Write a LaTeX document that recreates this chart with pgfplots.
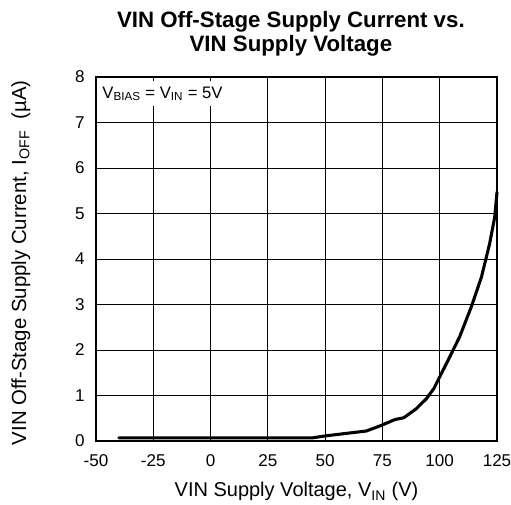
\documentclass[border=0pt]{standalone}
\usepackage{fontspec}
\setmainfont{Liberation Sans}
\usepackage{pgfplots}
\pgfplotsset{compat=1.18}
\newcommand{\sub}[1]{\textsubscript{#1}}
\begin{document}
\begin{tikzpicture}
\path[use as bounding box] (-72pt,-48pt) rectangle (311.25pt,330.75pt);
\begin{axis}[
  at={(0pt,0pt)}, anchor=south west,
  scale only axis, width=300.75pt, height=273pt,
  xmin=-50, xmax=125, ymin=0, ymax=8,
  xtick={-50,-25,0,25,50,75,100,125},
  xticklabels={-50,-25,0,25,50,75,100,125},
  ytick={0,1,2,3,4,5,6,7,8},
  yticklabels={0,1,2,3,4,5,6,7,8},
  major tick length=0pt,
  xticklabel shift=7pt, yticklabel shift=5pt,
  tick label style={font=\fontsize{12.8}{14}\selectfont, text=black},
  grid=major,
  major grid style={black, line width=0.65pt},
  axis line style={black, line width=0.9pt},
  title={VIN Off-Stage Supply Current vs.\\VIN Supply Voltage},
  title style={font=\bfseries\fontsize{16.7}{17.8}\selectfont, align=center,
    at={(axis description cs:0.486,1)}, anchor=south, inner sep=0pt, yshift=9.5pt},
  xlabel={VIN Supply Voltage, V\sub{IN} (V)},
  xlabel style={font=\fontsize{15}{17}\selectfont, at={(axis description cs:0.5,0)}, anchor=base, yshift=-42pt},
  ylabel={VIN Off-Stage Supply Current, I\sub{OFF}\ \ (µA)},
  ylabel style={font=\fontsize{15.3}{17}\selectfont, at={(axis description cs:-0.1745,0.49)}, anchor=base},
  clip=false,
]
\addplot[black, line width=2.3pt, line join=round, line cap=round] coordinates {
(-40,0.07) (44.7,0.07) (49.8,0.11) (68,0.22) (74.6,0.345) (80.4,0.47) (84.3,0.51)
(89.8,0.71) (94.2,0.93) (97.4,1.15) (100,1.41) (104.4,1.85) (108.7,2.29)
(113.8,2.95) (118.2,3.6) (121.8,4.34) (124,4.92) (125,5.47)
};
\node[anchor=base west, fill=white, inner xsep=1pt, inner ysep=4pt, font=\fontsize{12.5}{14}\selectfont]
  at (axis description cs:0.012,0.942) {V\sub{BIAS} = V\sub{IN} = 5V};
\end{axis}
\end{tikzpicture}
\end{document}
